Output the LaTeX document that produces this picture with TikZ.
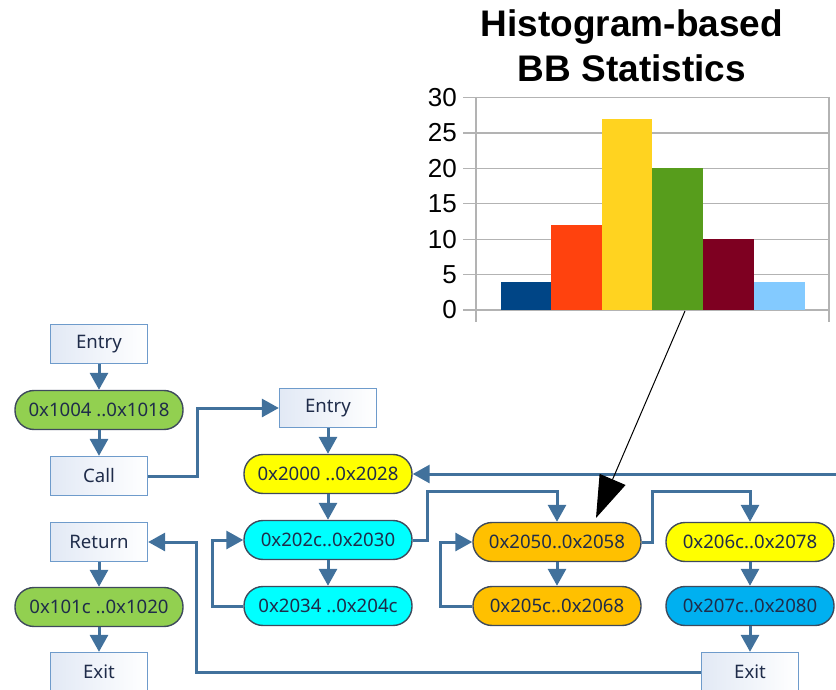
\documentclass[tikz,border=0pt]{standalone}
\usepackage{fontspec}
\setmainfont{Liberation Sans}
\newfontfamily\flowfont{Noto Sans}
\usetikzlibrary{arrows.meta,calc}

\definecolor{flowline}{HTML}{41719C}
\definecolor{pillborder}{HTML}{3E4A5C}
\definecolor{boxborder}{HTML}{6E9BCB}
\definecolor{boxshade}{HTML}{E2E9F5}
\definecolor{txtnavy}{HTML}{1F2C4A}
\definecolor{bbgreen}{HTML}{92D050}
\definecolor{bbyellow}{HTML}{FFFF00}
\definecolor{bbcyan}{HTML}{00FFFF}
\definecolor{bborange}{HTML}{FFC000}
\definecolor{bbblue}{HTML}{00B0F0}
\definecolor{gridgray}{HTML}{B3B3B3}
\definecolor{barA}{HTML}{004586}
\definecolor{barB}{HTML}{FF420E}
\definecolor{barC}{HTML}{FFD320}
\definecolor{barD}{HTML}{579D1C}
\definecolor{barE}{HTML}{7E0021}
\definecolor{barF}{HTML}{83CAFF}

\tikzset{
  pill/.style={rectangle, rounded corners=19pt, minimum width=168pt,
    minimum height=39pt, inner sep=0pt, draw=pillborder, line width=1.4pt,
    text=txtnavy, font=\flowfont\fontsize{18.6}{22}\selectfont},
  boxn/.style={rectangle, minimum width=97pt, minimum height=39pt,
    inner sep=0pt, draw=boxborder, line width=1.3pt,
    left color=boxshade, right color=white,
    text=txtnavy, font=\flowfont\fontsize{18.6}{22}\selectfont},
  flow/.style={draw=flowline, line width=3pt,
    -{Triangle[width=18pt,length=17pt]}},
  gridln/.style={draw=gridgray, line width=1.3pt},
  ylab/.style={anchor=east, inner sep=0pt, font=\fontsize{26}{30}\selectfont},
  ttl/.style={anchor=base, inner sep=0pt, font=\bfseries\fontsize{37}{44}\selectfont}
}

\begin{document}
\begin{tikzpicture}[x=1pt,y=-1pt]
\useasboundingbox (0,0) rectangle (836,690);
\clip (0,0) rectangle (836,690);

% ---- histogram ----
\node[ttl] (t1) at (632,37) {Histogram-based};
\node[ttl] (t2) at (632,82) {BB Statistics};

\foreach \v [count=\i from 0] in {0,5,10,15,20,25,30} {
  \pgfmathsetmacro{\yy}{310-\i*35.4}
  \draw[gridln] (463,\yy) -- (829,\yy);
  \node[ylab] at (457,\yy) {\v};
}
\draw[gridln] (476,97) -- (476,322);
\draw[gridln] (829,97) -- (829,322);

\def\unit{7.08}
\fill[barA] (501,310) rectangle (551,{310-4*\unit});
\fill[barB] (551,310) rectangle (602,{310-12*\unit});
\fill[barC] (602,310) rectangle (652,{310-27*\unit});
\fill[barD] (652,310) rectangle (703,{310-20*\unit});
\fill[barE] (703,310) rectangle (754,{310-10*\unit});
\fill[barF] (754,310) rectangle (805,{310-4*\unit});

% ---- caller ----
\node[boxn] (en1) at (99,344) {Entry};
\node[pill, fill=bbgreen] (g1) at (99,410) {0x1004 ..0x1018};
\node[boxn] (call) at (99,476) {Call};
\node[boxn] (ret) at (99,542) {Return};
\node[pill, fill=bbgreen] (g2) at (99,607) {0x101c ..0x1020};
\node[boxn] (ex1) at (99,672) {Exit};

% ---- callee ----
\node[boxn] (en2) at (328,408) {Entry};
\node[pill, fill=bbyellow] (y1) at (328,474) {0x2000 ..0x2028};
\node[pill, fill=bbcyan] (c1) at (328,540) {0x202c..0x2030};
\node[pill, fill=bbcyan] (c2) at (328,606) {0x2034 ..0x204c};
\node[pill, fill=bborange] (o1) at (557,542) {0x2050..0x2058};
\node[pill, fill=bborange] (o2) at (557,606) {0x205c..0x2068};
\node[pill, fill=bbyellow] (y2) at (750,542) {0x206c..0x2078};
\node[pill, fill=bbblue] (b1) at (750,606) {0x207c..0x2080};
\node[boxn] (ex2) at (750,672) {Exit};
\coordinate (backin) at (836,474);

% ---- control flow ----
\draw[flow] (en1) -- (g1);
\draw[flow] (g1) -- (call);
\draw[flow] (call.east) -- ++(49,0) |- (en2.west);
\draw[flow] (ret) -- (g2);
\draw[flow] (g2) -- (ex1);
\draw[flow] (en2) -- (y1);
\draw[flow] (y1) -- (c1);
\draw[flow] (c1) -- (c2);
\draw[flow] (c2.west) -- ++(-31,0) |- (c1.west);
\draw[flow] (ex2.west) -- ++(-504,0) |- (ret.east);
\draw[flow] (c1.east) -- ++(15,0) |- ($(o1.north)+(0,-30)$) -- (o1.north);
\draw[flow] (o1) -- (o2);
\draw[flow] (o2.west) -- ++(-32,0) |- (o1.west);
\draw[flow] (o1.east) -- ++(11,0) |- ($(y2.north)+(0,-30)$) -- (y2.north);
\draw[flow] (y2) -- (b1);
\draw[flow] (b1) -- (ex2);
\draw[flow] (backin) -- (y1.east);

% ---- pointer from histogram ----
\coordinate (barfoot) at (685,311);
\coordinate (hit) at (596,518);
\draw[line width=1pt, -{Triangle[width=28pt,length=42pt]}] (barfoot) -- (hit);
\end{tikzpicture}
\end{document}
